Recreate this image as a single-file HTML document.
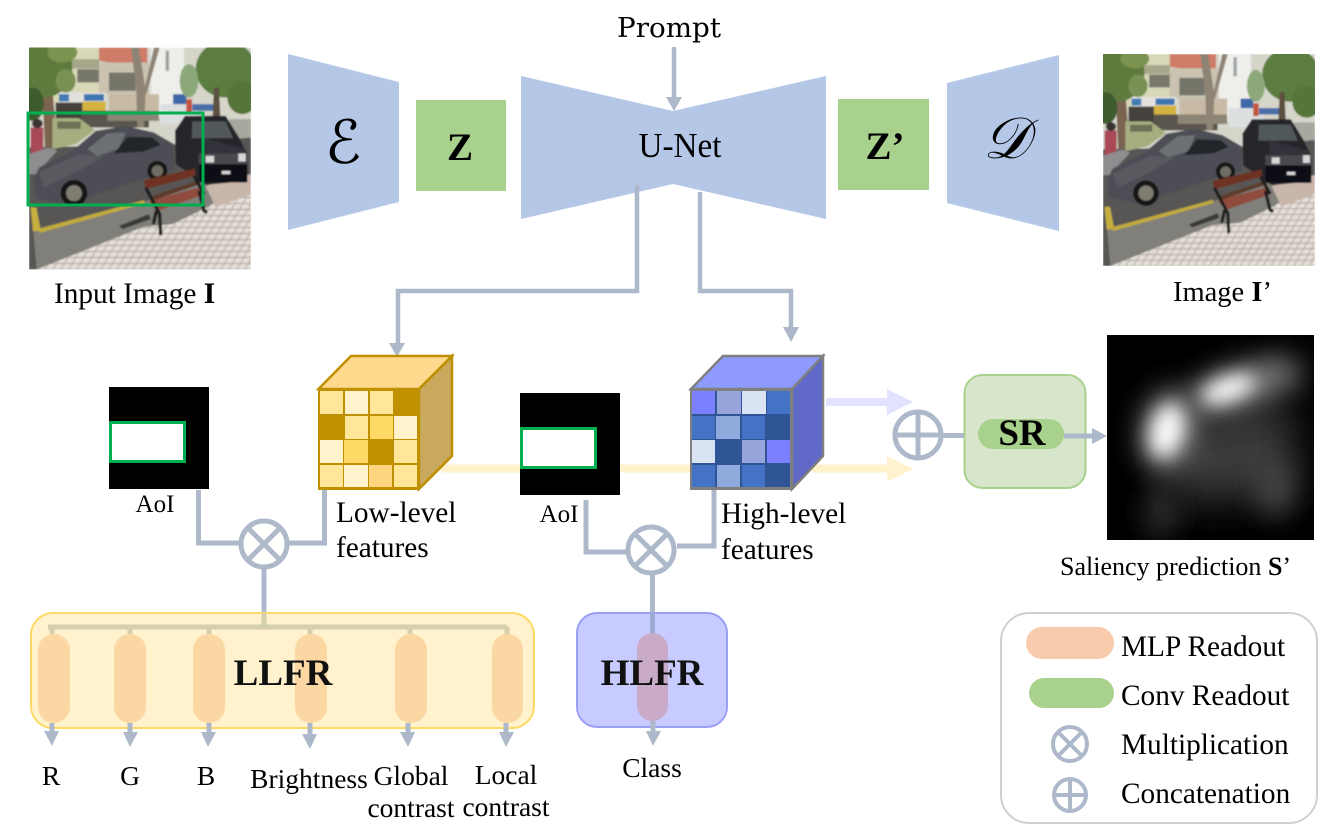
<!DOCTYPE html>
<html>
<head>
<meta charset="utf-8">
<style>
html,body{margin:0;padding:0;background:#fff;width:1337px;height:839px;overflow:hidden}
svg{display:block}
text{font-family:"Liberation Serif","DejaVu Serif",serif;fill:#000}
</style>
</head>
<body>
<svg width="1337" height="839" viewBox="0 0 1337 839" xmlns="http://www.w3.org/2000/svg">
<defs>
<filter id="b2" x="-5%" y="-5%" width="110%" height="110%"><feGaussianBlur stdDeviation="2.2"/></filter>
<filter id="s0" x="-100%" y="-100%" width="300%" height="300%"><feGaussianBlur stdDeviation="20"/></filter>
<filter id="s1" x="-100%" y="-100%" width="300%" height="300%"><feGaussianBlur stdDeviation="14"/></filter>
<filter id="s2" x="-100%" y="-100%" width="300%" height="300%"><feGaussianBlur stdDeviation="9"/></filter>
<clipPath id="phc"><rect width="666" height="666"/></clipPath>
<clipPath id="salc"><rect x="1107" y="335" width="207" height="205"/></clipPath>
<pattern id="tile" width="24" height="18" patternUnits="userSpaceOnUse" patternTransform="skewX(-30)">
<rect width="24" height="18" fill="#b9b0a6"/><rect x="2" y="2" width="20" height="14" fill="#e4dfd8"/>
</pattern>
<symbol id="photo" viewBox="0 0 666 666">
<g clip-path="url(#phc)"><g filter="url(#b2)">
<rect width="666" height="666" fill="#d6d5ca"/>
<rect x="70" y="0" width="140" height="170" fill="#d8d8b8"/>
<rect x="85" y="35" width="125" height="28" fill="#a5a68a"/>
<rect x="145" y="65" width="65" height="40" fill="#77786a"/>
<polygon points="210,0 355,0 355,65 210,40" fill="#cf7c68"/>
<rect x="210" y="45" width="150" height="95" fill="#c9c3b0"/>
<rect x="240" y="75" width="80" height="55" fill="#75746a"/>
<rect x="365" y="0" width="100" height="210" fill="#eeeeea"/>
<rect x="410" y="10" width="10" height="60" fill="#9aa0a0"/>
<rect x="90" y="135" width="140" height="35" fill="#e2e1de"/>
<rect x="90" y="140" width="30" height="22" fill="#3f7bb5"/>
<rect x="165" y="140" width="60" height="20" fill="#3d74b0"/>
<rect x="160" y="162" width="70" height="30" fill="#d3b33f"/>
<rect x="240" y="140" width="150" height="55" fill="#c8baa4"/>
<rect x="80" y="165" width="80" height="60" fill="#45423d"/>
<rect x="160" y="190" width="200" height="50" fill="#5a564e"/>
<rect x="235" y="190" width="155" height="30" fill="#8c8474"/>
<rect x="395" y="170" width="110" height="60" fill="#dcdfe0"/>
<rect x="432" y="140" width="40" height="30" fill="#3d68a8"/>
<rect x="472" y="155" width="17" height="40" fill="#c5523e"/>
<rect x="490" y="170" width="70" height="20" fill="#4a6ea8"/>
<polygon points="306,0 330,0 350,130 345,240 325,240 322,130" fill="#8e8474"/>
<polygon points="345,130 375,0 392,0 352,140" fill="#8e8474"/>
<polygon points="40,120 70,120 85,300 48,310" fill="#7a6450"/>
<ellipse cx="45" cy="60" rx="85" ry="90" fill="#5f7a3e"/>
<ellipse cx="100" cy="15" rx="45" ry="30" fill="#7b9450"/>
<ellipse cx="110" cy="100" rx="30" ry="35" fill="#7a9155"/>
<ellipse cx="10" cy="170" rx="35" ry="50" fill="#3e5c2f"/>
<ellipse cx="590" cy="65" rx="90" ry="85" fill="#5c7d40"/>
<ellipse cx="480" cy="100" rx="28" ry="50" fill="#8ca87a"/>
<ellipse cx="640" cy="150" rx="45" ry="50" fill="#567538"/>
<polygon points="555,120 570,120 575,230 550,230" fill="#5c5040"/>
<rect x="600" y="215" width="66" height="60" fill="#a8a8a0"/>
<polygon points="0,300 450,290 666,270 666,430 343,538 23,666 0,666" fill="#585754"/>
<polygon points="13,548 343,463 530,400 666,380 666,666 23,666" fill="#807f79"/>
<polygon points="23,666 343,538 430,530 533,480 666,400 666,666" fill="url(#tile)"/>
<polygon points="530,415 666,380 666,440 560,480" fill="#c9b6aa"/>
<polygon points="5,480 22,480 35,548 12,552" fill="#c8b040"/>
<polygon points="25,545 345,458 347,468 32,556" fill="#c2ab3e"/>
<polygon points="270,535 360,500 365,515 280,545" fill="#3b3a36"/>
<polygon points="70,212 150,212 198,248 140,290 70,305" fill="#a6ae80"/>
<rect x="85" y="222" width="70" height="22" fill="#6c7256"/>
<rect x="5" y="240" width="38" height="80" fill="#a84a55"/>
<ellipse cx="25" cy="228" rx="16" ry="14" fill="#3a3030"/>
<polygon points="0,320 60,300 85,310 20,380 0,380" fill="#8e8e90"/>
<polygon points="13,398 30,360 130,310 200,250 290,235 375,255 435,290 437,365 370,385 175,450 110,470 20,452" fill="#4d4e54"/>
<polygon points="175,305 235,258 290,255 268,305 205,325" fill="#6d7174"/>
<polygon points="255,318 295,268 370,270 395,292 345,312" fill="#232529"/>
<polygon points="30,375 150,320 225,325 140,375 45,420" fill="#595a60"/>
<circle cx="135" cy="437" r="40" fill="#141414"/><circle cx="135" cy="437" r="24" fill="#7f7d72"/>
<circle cx="385" cy="370" r="30" fill="#141414"/><circle cx="385" cy="370" r="17" fill="#706e64"/>
<polygon points="440,350 438,250 468,205 590,205 630,270 655,320 655,400 530,412" fill="#27272b"/>
<polygon points="490,222 590,222 612,272 488,272" fill="#51585b"/>
<polygon points="520,270 650,305 655,330 525,320" fill="#32333a"/>
<rect x="510" y="318" width="145" height="34" fill="#4a4a4e"/>
<rect x="530" y="325" width="25" height="20" fill="#d7d7d7"/><rect x="628" y="318" width="22" height="24" fill="#d7d7d7"/>
<rect x="510" y="350" width="145" height="55" fill="#111113"/>
<rect x="578" y="370" width="26" height="10" fill="#d8d8d8"/>
<polygon points="345,398 498,363 500,385 350,425" fill="#6e3324"/>
<polygon points="360,460 510,420 522,442 385,490" fill="#8f4b3e"/>
<polygon points="370,445 505,400 507,412 375,458" fill="#5b3a2c"/>
<path d="M350 420L392 500 395 563M382 490 373 530M510 430 525 490 535 495M495 385 525 440" stroke="#1c1c1c" stroke-width="10" fill="none"/>
</g></g>
</symbol>
</defs>

<!-- top blocks -->
<polygon points="288,54 399,82 399,202 288,230" fill="#b4c7e7"/>
<rect x="416" y="100" width="90" height="91" fill="#a9d18e"/>
<polygon points="521,76 673,111 826,76 826,219 673,184 521,219" fill="#b4c7e7"/>
<rect x="838" y="99" width="91" height="91" fill="#a9d18e"/>
<polygon points="947,83 1059,55 1059,231 947,203" fill="#b4c7e7"/>

<text x="343" y="163" font-size="60" font-style="italic" text-anchor="middle" style="font-family:'DejaVu Serif','DejaVu Sans','Liberation Serif',serif">ℰ</text>
<text x="1006" y="158" font-size="58" font-style="italic" text-anchor="middle" style="font-family:'DejaVu Serif','DejaVu Sans','Liberation Serif',serif">𝒟</text>
<text x="460" y="160" font-size="39" font-weight="bold" text-anchor="middle">Z</text>
<text x="885" y="159" font-size="39" font-weight="bold" text-anchor="middle">Z’</text>
<text x="680" y="157" font-size="35" text-anchor="middle" textLength="83" lengthAdjust="spacingAndGlyphs">U-Net</text>
<text x="669" y="37" font-size="27" text-anchor="middle" textLength="104" lengthAdjust="spacingAndGlyphs" style="font-family:'DejaVu Serif',serif">Prompt</text>

<!-- connectors top -->
<g fill="none" stroke="#adb9ca" stroke-width="4.500">
<path d="M674 47V100"/>
<path d="M637 185V291H398V344"/>
<path d="M700 192V291H791V329"/>
</g>
<g fill="#adb9ca">
<polygon points="666,97 682,97 674,111"/>
<polygon points="389,343 405,343 397,357"/>
<polygon points="783,327 799,327 791,342"/>
</g>

<!-- photos -->
<use href="#photo" x="29" y="47" width="222" height="223"/>
<rect x="28" y="113" width="175" height="92" fill="none" stroke="#00b050" stroke-width="3"/>
<use href="#photo" x="1103" y="54" width="212" height="212"/>
<text x="54" y="303" font-size="29.300">Input Image <tspan font-weight="bold">I</tspan></text>
<text x="1173" y="301" font-size="28.500">Image <tspan font-weight="bold">I</tspan>’</text>

<!-- feature flow arrows -->
<g fill="none">
<path d="M441 468.500H690" stroke="#fff2cc" stroke-width="8"/>
<path d="M812 468.500H890" stroke="#fff2cc" stroke-width="8"/>
<path d="M826 402H890" stroke="#e2e2ff" stroke-width="8"/>
</g>
<polygon points="887,456 913,469 887,482" fill="#fff2cc"/>
<polygon points="887,389 913,402 887,415" fill="#e2e2ff"/>

<!-- Low cube -->
<polygon points="318.500,389 351,356 452,356 419,389" fill="#ffd98e" stroke="#bf9000" stroke-width="2.500"/>
<polygon points="419,389 452,356 452,456 419,489" fill="#c9a95e" stroke="#bf9000" stroke-width="2.500"/>
<rect x="318" y="389" width="102" height="101" fill="#bf9000"/>
<g>
<rect x="320" y="391" width="23" height="23" fill="#ffe699"/><rect x="345" y="391" width="23" height="23" fill="#fff2cc"/><rect x="370" y="391" width="23" height="23" fill="#ffe699"/>
<rect x="345" y="416" width="23" height="23" fill="#ffe699"/><rect x="370" y="416" width="23" height="23" fill="#ffd966"/><rect x="394" y="416" width="23" height="23" fill="#fff2cc"/>
<rect x="320" y="440" width="23" height="23" fill="#fff2cc"/><rect x="344" y="440" width="24" height="23" fill="#ffd966"/><rect x="394" y="440" width="23" height="23" fill="#ffe699"/>
<rect x="320" y="465" width="23" height="22" fill="#ffe699"/><rect x="344" y="465" width="24" height="22" fill="#fff2cc"/><rect x="369" y="465" width="23" height="22" fill="#ffd47f"/><rect x="394" y="465" width="23" height="22" fill="#ffe699"/>
</g>

<!-- High cube -->
<polygon points="691,389 723,356 823,356 792,389" fill="#8f9aff" stroke="#7f7f7f" stroke-width="2.500"/>
<polygon points="792,389 823,356 823,456 792,489" fill="#6068c8" stroke="#7f7f7f" stroke-width="2.500"/>
<rect x="690" y="389" width="102" height="101" fill="#7f7f7f"/>
<rect x="692" y="391" width="98" height="96" fill="#2f5597"/>
<g>
<rect x="692" y="391" width="23" height="23" fill="#7a80ff"/><rect x="717" y="391" width="24" height="23" fill="#98a4dc"/><rect x="742" y="391" width="24" height="23" fill="#dae3f3"/><rect x="767" y="391" width="23" height="23" fill="#4472c4"/>
<rect x="692" y="416" width="23" height="23" fill="#4472c4"/><rect x="716" y="416" width="24" height="23" fill="#8faadc"/><rect x="742" y="416" width="23" height="23" fill="#4472c4"/>
<rect x="692" y="440" width="23" height="23" fill="#dae3f3"/><rect x="742" y="440" width="23" height="23" fill="#98a4dc"/><rect x="767" y="440" width="23" height="23" fill="#7a80ff"/>
<rect x="692" y="465" width="23" height="22" fill="#4472c4"/><rect x="717" y="465" width="23" height="22" fill="#8faadc"/><rect x="742" y="465" width="23" height="22" fill="#4472c4"/>
</g>

<!-- AoI masks -->
<rect x="109" y="387" width="100" height="102" fill="#000"/>
<rect x="110.500" y="422.500" width="74" height="39" fill="#fff" stroke="#00b050" stroke-width="3"/>
<text x="155" y="512" font-size="25" text-anchor="middle">AoI</text>
<rect x="520" y="393" width="100" height="102" fill="#000"/>
<rect x="521.500" y="428.500" width="74" height="39" fill="#fff" stroke="#00b050" stroke-width="3"/>
<text x="559" y="522" font-size="25" text-anchor="middle">AoI</text>

<text x="336" y="522" font-size="29.300">Low-level</text>
<text x="336" y="557" font-size="29.300">features</text>
<text x="721" y="523" font-size="29.300">High-level</text>
<text x="721" y="559" font-size="29.300">features</text>

<!-- Otimes connectors -->
<g fill="none" stroke="#adb9ca" stroke-width="5">
<path d="M198.500 490V543H241"/>
<path d="M324.500 490V543H287"/>
<path d="M264 567V627"/>
<path d="M586 500V552H629"/>
<path d="M714 490V546H677"/>
<circle cx="264" cy="544" r="23"/>
<path d="M248 528L280 560M280 528L248 560"/>
<circle cx="651" cy="550" r="23"/>
<path d="M635 534L667 566M667 534L635 566"/>
<path d="M652.500 573V620"/>
<circle cx="918" cy="435" r="23"/>
<path d="M895 435H941M918 412V458"/>
<path d="M941 435.500H965"/>
</g>

<!-- LLFR -->
<rect x="31" y="613" width="503" height="115" rx="22" fill="#fff2cc" stroke="#ffd966" stroke-width="2"/>
<g stroke="#d6cfae" stroke-width="5" fill="none"><path d="M48 627H507M264 613V627"/></g>
<g stroke="#d6cfae" stroke-width="5"><path d="M52 627V634M130 627V634M209 627V634M310 627V634M410 627V634M507 627V634"/></g>
<g fill="#fbd7a4">
<rect x="38" y="634" width="32" height="89" rx="16"/>
<rect x="114" y="634" width="32" height="89" rx="16"/>
<rect x="193" y="634" width="32" height="89" rx="16"/>
<rect x="295" y="634" width="32" height="89" rx="16"/>
<rect x="395" y="634" width="32" height="89" rx="16"/>
<rect x="492" y="634" width="31" height="89" rx="15.500"/>
</g>
<text x="283" y="685" font-size="37" font-weight="bold" text-anchor="middle" style="fill:#111">LLFR</text>
<g stroke="#adb9ca" stroke-width="5"><path d="M52 723V733M130 723V733M209 723V733M310 723V735M408 723V733M506 723V733"/></g>
<g fill="#adb9ca">
<polygon points="44,731 59,731 52,746"/>
<polygon points="123,732 138,732 130,747"/>
<polygon points="201,732 216,732 208,747"/>
<polygon points="302,734 317,734 310,749"/>
<polygon points="400,732 415,732 408,747"/>
<polygon points="499,732 514,732 506,747"/>
</g>
<g font-size="27.500">
<text x="51" y="785" text-anchor="middle">R</text>
<text x="130" y="785" text-anchor="middle">G</text>
<text x="206" y="785" text-anchor="middle">B</text>
<text x="309" y="788" text-anchor="middle">Brightness</text>
<text x="411" y="785" text-anchor="middle">Global</text>
<text x="411" y="817" text-anchor="middle">contrast</text>
<text x="506" y="784" text-anchor="middle">Local</text>
<text x="506" y="816" text-anchor="middle">contrast</text>
<text x="652" y="777" text-anchor="middle">Class</text>
</g>

<!-- HLFR -->
<rect x="577" y="613" width="150" height="114" rx="20" fill="#c7cbff" stroke="#9aa0f4" stroke-width="2"/>
<path d="M652.500 613V633" stroke="#9eaad2" stroke-width="5"/>
<rect x="637" y="633" width="31" height="88" rx="15.500" fill="#c9abc9"/>
<text x="652" y="685" font-size="37" font-weight="bold" text-anchor="middle" style="fill:#111">HLFR</text>
<path d="M653 721V734" stroke="#adb9ca" stroke-width="5"/>
<polygon points="646,731 661,731 653,746" fill="#adb9ca"/>

<!-- SR -->
<rect x="964.500" y="375" width="121" height="113" rx="18" fill="#d7e6ca" stroke="#a9d18e" stroke-width="2"/>
<rect x="978" y="419" width="86" height="30" rx="15" fill="#a9d18e"/>
<text x="1022" y="445" font-size="37" font-weight="bold" text-anchor="middle">SR</text>
<path d="M1064 436H1094" stroke="#adb9ca" stroke-width="5"/>
<polygon points="1092,428 1107,436 1092,444" fill="#adb9ca"/>

<!-- Saliency -->
<rect x="1107" y="335" width="207" height="205" fill="#000"/>
<g clip-path="url(#salc)">
<polygon points="1160,430 1290,400 1295,490 1220,500 1175,500" fill="#3a3a3a" filter="url(#s0)"/>
<ellipse cx="1282" cy="373" rx="22" ry="15" fill="#666" filter="url(#s1)"/>
<ellipse cx="1275" cy="488" rx="18" ry="28" fill="#4a4a4a" filter="url(#s1)"/>
<ellipse cx="1161" cy="512" rx="13" ry="26" fill="#3a3a3a" filter="url(#s1)"/>
<ellipse cx="1168" cy="430" rx="26" ry="40" fill="#8c8c8c" filter="url(#s1)" transform="rotate(12 1168 430)"/>
<ellipse cx="1235" cy="388" rx="50" ry="20" fill="#8c8c8c" filter="url(#s1)" transform="rotate(-18 1235 388)"/>
<ellipse cx="1167" cy="431" rx="15" ry="26" fill="#fff" filter="url(#s2)" transform="rotate(14 1167 431)"/>
<ellipse cx="1228" cy="389" rx="27" ry="11" fill="#fff" filter="url(#s2)" transform="rotate(-20 1228 389)"/>
</g>
<text x="1060" y="575" font-size="26">Saliency prediction <tspan font-weight="bold">S</tspan>’</text>

<!-- Legend -->
<rect x="1001" y="613" width="316" height="210" rx="28" fill="#fff" stroke="#d0d0d0" stroke-width="2"/>
<rect x="1026" y="627" width="88" height="32" rx="16" fill="#f8cbad"/>
<rect x="1029" y="678" width="85" height="30" rx="15" fill="#a9d18e"/>
<g fill="none" stroke="#adb9ca" stroke-width="4">
<circle cx="1070" cy="744" r="17"/>
<path d="M1058 732L1082 756M1082 732L1058 756"/>
<circle cx="1070" cy="795" r="16"/>
<path d="M1054 795H1086M1070 779V811"/>
</g>
<g font-size="29.300">
<text x="1121" y="656">MLP Readout</text>
<text x="1121" y="705">Conv Readout</text>
<text x="1121" y="754">Multiplication</text>
<text x="1121" y="803">Concatenation</text>
</g>
</svg>
</body>
</html>
